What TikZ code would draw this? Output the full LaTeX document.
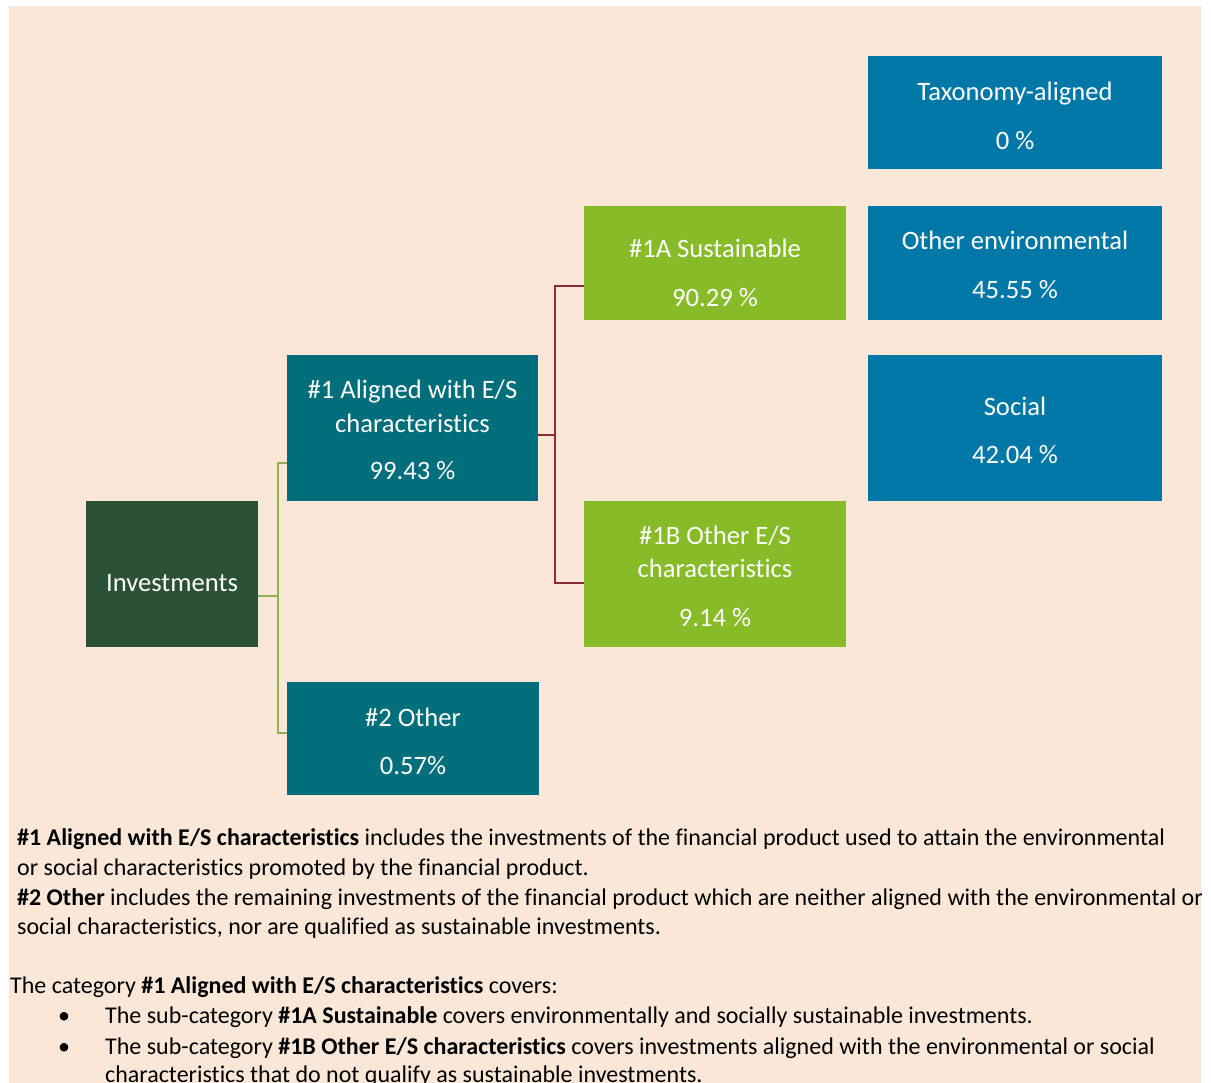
\documentclass[tikz,border=0pt]{standalone}
\usepackage{fontspec}
\setmainfont{Carlito}[Ligatures={NoCommon}]
\definecolor{peach}{HTML}{FAE7D7}
\definecolor{invgreen}{HTML}{2B5234}
\definecolor{teal}{HTML}{006E7B}
\definecolor{bluebox}{HTML}{0078A7}
\definecolor{lightgreen}{HTML}{87BC28}
\definecolor{redline}{HTML}{8B2A38}
\definecolor{greenline}{HTML}{8FB14F}
\begin{document}
\begin{tikzpicture}[x=1pt,y=-1pt,
  box/.style={draw=none,inner sep=0pt,outer sep=0pt,rectangle},
  boxtxt/.style={text=white,anchor=base,inner sep=0pt,font=\fontsize{26.6}{32}\selectfont},
  bodytxt/.style={text=black,anchor=base west,inner sep=0pt,font=\fontsize{24}{29}\selectfont},
  gline/.style={draw=greenline,line width=2.5pt},
  rline/.style={draw=redline,line width=2.5pt}]
\useasboundingbox (0,0) rectangle (1211,1083);
\fill[white] (0,0) rectangle (1211,1083);
\fill[peach] (9,6) rectangle (1201,1083);

% boxes
\node[box,fill=invgreen,minimum width=172pt,minimum height=146pt] (inv) at (172,574) {};
\node[box,fill=teal,minimum width=251pt,minimum height=146pt] (a1) at (412.5,428) {};
\node[box,fill=teal,minimum width=252pt,minimum height=113pt] (o2) at (413,738) {};
\node[box,fill=lightgreen,minimum width=262pt,minimum height=113.5pt] (s1a) at (715,263) {};
\node[box,fill=lightgreen,minimum width=262pt,minimum height=146pt] (s1b) at (715,574) {};
\node[box,fill=bluebox,minimum width=294pt,minimum height=113pt] (tax) at (1015,113) {};
\node[box,fill=bluebox,minimum width=294pt,minimum height=113.5pt] (oenv) at (1015,263) {};
\node[box,fill=bluebox,minimum width=294pt,minimum height=146pt] (soc) at (1015,428) {};

% box texts
\node[boxtxt] (invt) at (172,591.3) {Investments};
\node[boxtxt] (a1t1) at (412.5,398.7) {\#1 Aligned with E/S};
\node[boxtxt] (a1t2) at (412.5,432) {characteristics};
\node[boxtxt] (a1t3) at (412.5,479.7) {99.43 \%};
\node[boxtxt] (o2t1) at (413,726) {\#2 Other};
\node[boxtxt] (o2t2) at (413,774.7) {0.57\%};
\node[boxtxt] (s1at1) at (715,258) {\#1A Sustainable};
\node[boxtxt] (s1at2) at (715,307) {90.29 \%};
\node[boxtxt] (s1bt1) at (715,544.7) {\#1B Other E/S};
\node[boxtxt] (s1bt2) at (715,577) {characteristics};
\node[boxtxt] (s1bt3) at (715,626) {9.14 \%};
\node[boxtxt] (taxt1) at (1015,101) {Taxonomy-aligned};
\node[boxtxt] (taxt2) at (1015,149.7) {0 \%};
\node[boxtxt] (oenvt1) at (1015,250) {Other environmental};
\node[boxtxt] (oenvt2) at (1015,298.7) {45.55 \%};
\node[boxtxt] (soct1) at (1015,415.3) {Social};
\node[boxtxt] (soct2) at (1015,464) {42.04 \%};

% connectors
\coordinate (gj) at (278,596);
\coordinate (gt) at (0,463);
\coordinate (gb) at (0,733);
\draw[gline] (inv.east |- gj) -- (gj);
\draw[gline] (a1.west |- gt) -| (gj) |- (o2.west |- gb);

\coordinate (rj) at (555,435);
\coordinate (rt) at (0,286);
\coordinate (rb) at (0,583);
\draw[rline] (a1.east |- rj) -- (rj);
\draw[rline] (s1a.west |- rt) -| (rj) |- (s1b.west |- rb);

% body text
\node[bodytxt] (l1) at (17,845) {\textbf{\#1 Aligned with E/S characteristics} includes the investments of the financial product used to attain the environmental};
\node[bodytxt] (l2) at (17,875) {or social characteristics promoted by the financial product.};
\node[bodytxt] (l3) at (17,905) {\textbf{\#2 Other} includes the remaining investments of the financial product which are neither aligned with the environmental or};
\node[bodytxt] (l4) at (17,934) {social characteristics, nor are qualified as sustainable investments.};
\node[bodytxt] (l5) at (10,993) {The category \textbf{\#1 Aligned with E/S characteristics} covers:};
\node[bodytxt] (b1) at (58,1023) {•};
\node[bodytxt] (l6) at (105,1023) {The sub-category \textbf{\#1A Sustainable} covers environmentally and socially sustainable investments.};
\node[bodytxt] (b2) at (58,1054) {•};
\node[bodytxt] (l7) at (105,1054) {The sub-category \textbf{\#1B Other E/S characteristics} covers investments aligned with the environmental or social};
\node[bodytxt] (l8) at (105,1082) {characteristics that do not qualify as sustainable investments.};
\end{tikzpicture}
\end{document}
